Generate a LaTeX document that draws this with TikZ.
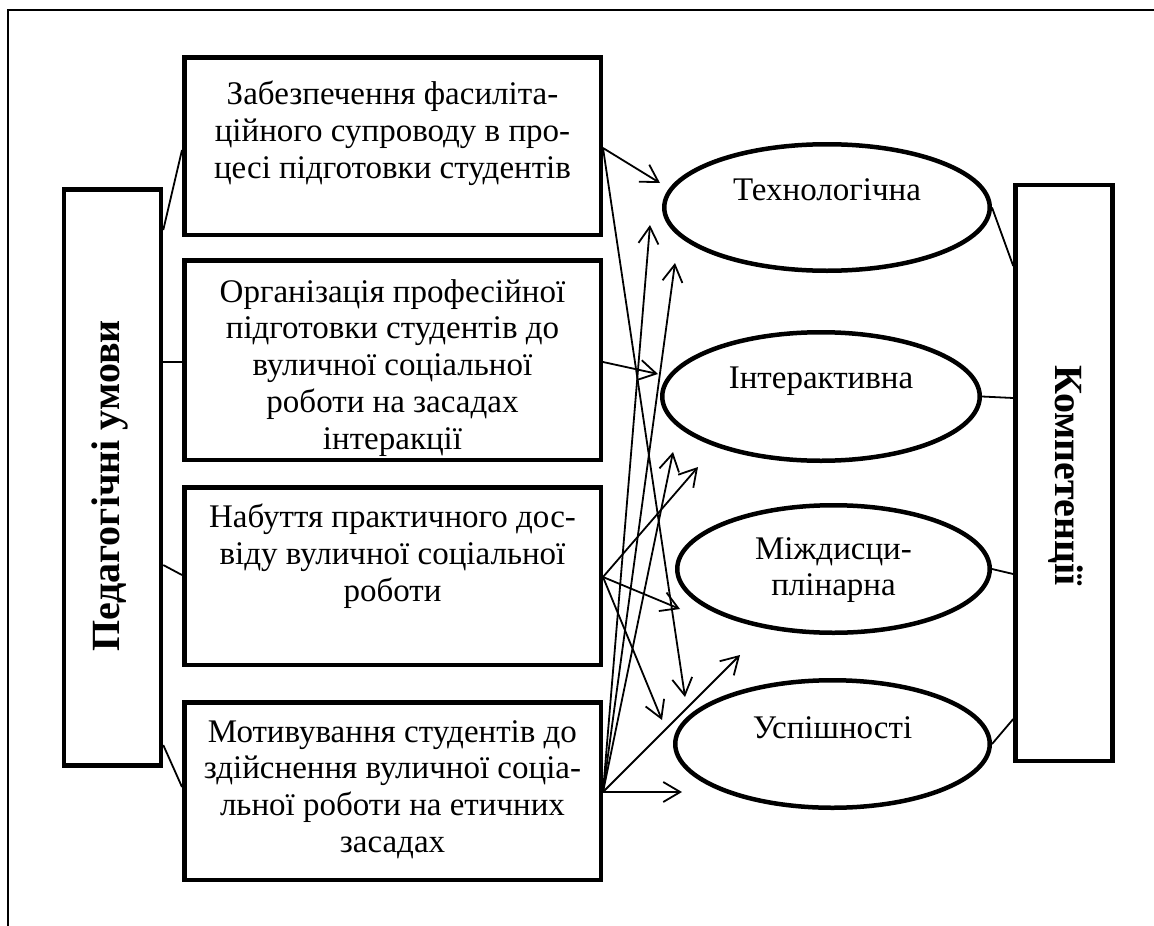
\documentclass[tikz,border=0pt]{standalone}
\usepackage{fontspec}
\setmainfont{Liberation Serif}
\usetikzlibrary{shapes.geometric,arrows.meta}
\begin{document}
\begin{tikzpicture}[x=1pt,y=-1pt,
  mybox/.style={draw, line width=4.5pt, minimum width=416.5pt, inner sep=0pt},
  myside/.style={draw, line width=4.5pt, minimum width=97pt, minimum height=576pt, inner sep=0pt},
  myoval/.style={draw, ellipse, line width=4.5pt, inner sep=0pt},
  mytxt/.style={align=center, inner sep=0pt, font=\fontsize{33}{36.8}\selectfont},
  mybig/.style={inner sep=0pt, font=\fontsize{40}{46}\selectfont\bfseries},
  mylink/.style={line width=1.8pt},
  myarr/.style={line width=1.8pt, -{Straight Barb[length=17pt,width=20pt]}},
  myframe/.style={line width=1.5pt}]
\useasboundingbox (0,0) rectangle (1154,926);
% outer frame
\coordinate (fa) at (8,926);
\coordinate (fb) at (8,10);
\coordinate (fc) at (1154,10);
\draw[myframe] (fa) -- (fb) -- (fc);
% boxes
\node[myside] (LB) at (112.5,477.5) {};
\node[myside] (RB) at (1064,473) {};
\node[mybox, minimum height=177.5pt] (B1) at (392.5,146) {};
\node[mybox, minimum height=199.5pt] (B2) at (392.5,360) {};
\node[mybox, minimum height=177.5pt] (B3) at (392.5,576) {};
\node[mybox, minimum height=177.5pt] (B4) at (392.5,791) {};
% ellipses
\node[myoval, minimum width=325.5pt, minimum height=126.5pt] (E1) at (827,207.5) {};
\node[myoval, minimum width=317.5pt, minimum height=128.5pt] (E2) at (821,396.5) {};
\node[myoval, minimum width=312.5pt, minimum height=127.5pt] (E3) at (833.5,569) {};
\node[myoval, minimum width=314.5pt, minimum height=127.5pt] (E4) at (832.5,744) {};
% texts
\node[mytxt, anchor=north] (T1) at (392.5,81) {Забезпечення фасиліта-\\ційного супроводу в про-\\цесі підготовки студентів};
\node[mytxt, anchor=north] (T2) at (392.5,279) {Організація професійної\\підготовки студентів до\\вуличної соціальної\\роботи на засадах\\інтеракції};
\node[mytxt, anchor=north] (T3) at (392.5,504) {Набуття практичного дос-\\віду вуличної соціальної\\роботи};
\node[mytxt, anchor=north] (T4) at (392.5,720) {Мотивування студентів до\\здійснення вуличної соціа-\\льної роботи на етичних\\засадах};
\node[mytxt, anchor=base] (T5) at (827,200) {Технологічна};
\node[mytxt, anchor=base] (T6) at (821,388) {Інтерактивна};
\node[mytxt, anchor=north] (T7) at (833.5,537) {Міждисци-\\плінарна};
\node[mytxt, anchor=base] (T8) at (832.5,738) {Успішності};
\node[mybig, rotate=90] (T9) at (110,486) {Педагогічні умови};
\node[mybig, rotate=-90] (T10) at (1066,476) {Компетенції};
% left connectors
\draw[mylink] (LB.east |- 0,230) -- (B1.west |- 0,150);
\draw[mylink] (LB.east |- 0,362) -- (B2.west |- 0,362);
\draw[mylink] (LB.east |- 0,565) -- (B3.west |- 0,575);
\draw[mylink] (LB.east |- 0,745) -- (B4.west |- 0,787);
% right connectors
\draw[mylink] (E1.east) -- (RB.west |- 0,266);
\draw[mylink] (E2.east) -- (RB.west |- 0,398);
\draw[mylink] (E3.east) -- (RB.west |- 0,574);
\draw[mylink] (E4.east) -- (RB.west |- 0,719);
% arrow origins
\coordinate (o1) at (B1.east |- 0,148);
\coordinate (o2) at (B2.east |- 0,362);
\coordinate (o3) at (B3.east |- 0,577);
\coordinate (o4) at (B4.east |- 0,792);
% arrow ends
\coordinate (a1) at (660,183);
\coordinate (a2) at (685,697);
\coordinate (a3) at (658,374);
\coordinate (a4) at (698,467);
\coordinate (a5) at (680,609);
\coordinate (a6) at (662,720);
\coordinate (a7) at (650,225);
\coordinate (a8) at (675,263);
\coordinate (a9) at (673,452);
\coordinate (a10) at (740,655);
\coordinate (a11) at (682,792);
\draw[myarr] (o1) -- (a1);
\draw[myarr] (o1) -- (a2);
\draw[myarr] (o2) -- (a3);
\draw[myarr] (o3) -- (a4);
\draw[myarr] (o3) -- (a5);
\draw[myarr] (o3) -- (a6);
\draw[myarr] (o4) -- (a7);
\draw[myarr] (o4) -- (a8);
\draw[myarr] (o4) -- (a9);
\draw[myarr] (o4) -- (a10);
\draw[myarr] (o4) -- (a11);
\end{tikzpicture}
\end{document}
